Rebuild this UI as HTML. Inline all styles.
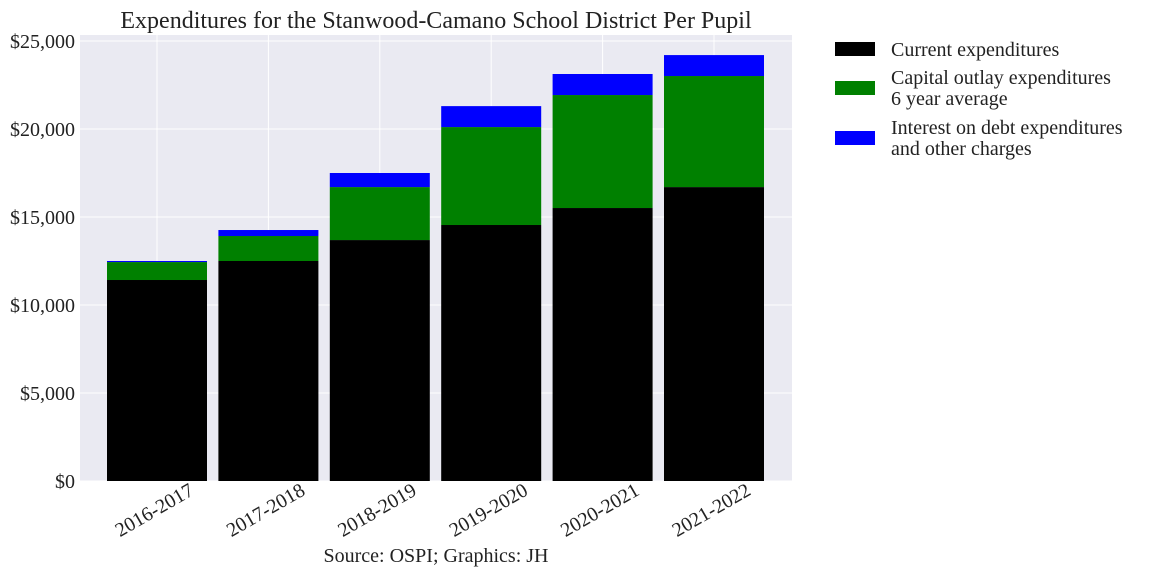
<!DOCTYPE html>
<html><head><meta charset="utf-8"><style>
body{margin:0;background:#fff;}
svg text{font-family:"Liberation Serif",serif;fill:#222;}
</style></head><body>
<svg width="1152" height="576" xmlns="http://www.w3.org/2000/svg" id="chart">
<text x="436" y="28" font-size="24" text-anchor="middle">Expenditures for the Stanwood-Camano School District Per Pupil</text>
<rect x="80" y="35" width="712" height="446" fill="#eaeaf2"/>
<g id="grid"></g><g id="bars"></g><g id="yticks"></g><g id="xticks"></g>
<text x="436" y="562" font-size="20" text-anchor="middle">Source: OSPI; Graphics: JH</text>
<g>
<rect x="835" y="42" width="40" height="14" fill="#000"/>
<text x="891" y="56" font-size="20">Current expenditures</text>
<rect x="835" y="81" width="40" height="14" fill="#008000"/>
<text x="891" y="84" font-size="20">Capital outlay expenditures</text>
<text x="891" y="105" font-size="20">6 year average</text>
<rect x="835" y="131" width="40" height="14" fill="#0000ff"/>
<text x="891" y="134" font-size="20">Interest on debt expenditures</text>
<text x="891" y="155" font-size="20">and other charges</text>
</g>
</svg>
<script>
const categories=["2016-2017","2017-2018","2018-2019","2019-2020","2020-2021","2021-2022"];
const current=[11420,12500,13690,14545,15510,16700];
const capital=[1020,1420,3010,5565,6420,6310];
const interest=[60,340,800,1190,1195,1190];
const yTicks=[0,5000,10000,15000,20000,25000];
const yTickLabels=["$0","$5,000","$10,000","$15,000","$20,000","$25,000"];
const NS="http://www.w3.org/2000/svg";
const y=v=>481-v*0.0176;
const x=i=>157+i*111.4;
const bw=100;
function mk(t,a,p){const e=document.createElementNS(NS,t);for(const k in a)e.setAttribute(k,a[k]);document.getElementById(p).appendChild(e);return e;}
yTicks.forEach((v,i)=>{
 const g=mk('line',{x1:80,x2:792,y1:y(v),y2:y(v),stroke:'#fff','stroke-width':1},'grid');
 
 
 const t=mk('text',{x:75,y:y(v)+7,'font-size':20,'text-anchor':'end'},'yticks');
 t.textContent=yTickLabels[i];
 
 
});
categories.forEach((c,i)=>{
 const gl=mk('line',{x1:x(i),x2:x(i),y1:35,y2:481,stroke:'#fff','stroke-width':1},'grid');
 
 
 const segs=[[0,current[i],'#000','current'],[current[i],current[i]+capital[i],'#008000','capital'],[current[i]+capital[i],current[i]+capital[i]+interest[i],'#0000ff','interest']];
 segs.forEach(s=>{
  const r=mk('rect',{x:x(i)-bw/2,y:y(s[1]),width:bw,height:y(s[0])-y(s[1]),fill:s[2]},'bars');
  
  
 });
 const t=mk('text',{x:x(i)+38,y:494,'font-size':20,'text-anchor':'end',transform:`rotate(-30 ${x(i)+38} 494)`},'xticks');
 t.textContent=c;
 
 
});
</script>
</body></html>
